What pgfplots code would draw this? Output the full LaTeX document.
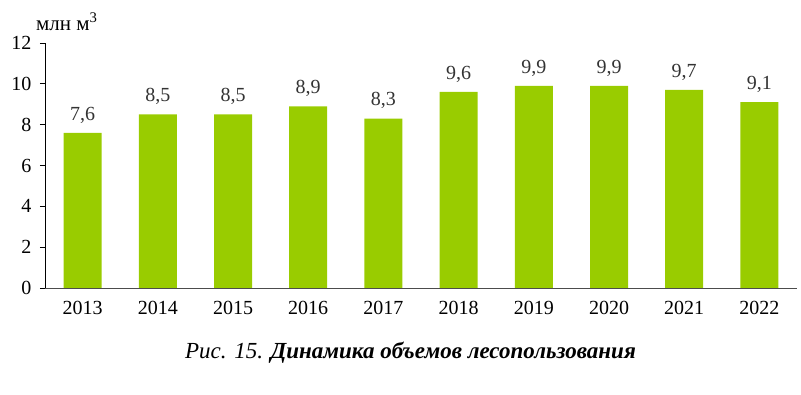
\documentclass[border=0pt]{standalone}
\usepackage{pgfplots}
\pgfplotsset{compat=1.18}
\usepackage{fontspec}
\setmainfont{Liberation Serif}
\definecolor{bargreen}{HTML}{99CC00}
\begin{document}
\begin{tikzpicture}
\useasboundingbox (0,0) rectangle (801pt,395pt);
\begin{axis}[
  at={(45pt,107pt)}, anchor=south west,
  scale only axis, width=752pt, height=245pt,
  xmin=-0.5, xmax=9.5, ymin=0, ymax=12,
  axis x line*=bottom, axis y line*=left,
  x axis line style={draw=black!70},
  ytick={0,2,...,12},
  xtick=data,
  xticklabels={2013,2014,2015,2016,2017,2018,2019,2020,2021,2022},
  x tick style={draw=none},
  y tick style={black, line width=0.8pt},
  tick align=outside,
  major tick length=5pt,
  ticklabel style={font=\fontsize{20}{23}\selectfont},
  /pgf/number format/assume math mode=true,
  yticklabel style={xshift=-5pt},
  xticklabel style={yshift=-5pt},
  axis line style={line width=0.8pt},
  ybar, bar width=38pt,
  nodes near coords,
  nodes near coords style={font=\fontsize{20}{23}\selectfont, yshift=6pt, text=black!80,
    /pgf/number format/.cd, fixed, fixed zerofill, precision=1, use comma, assume math mode=true},
  clip=false,
]
\addplot[fill=bargreen, draw=none] coordinates {
 (0,7.6) (1,8.5) (2,8.5) (3,8.9) (4,8.3) (5,9.6) (6,9.9) (7,9.9) (8,9.7) (9,9.1)};
\node[font=\fontsize{21}{24}\selectfont] at (rel axis cs:0.029,1.086) {млн м\textsuperscript{3}};
\node[font=\fontsize{23}{26}\selectfont\itshape] at (rel axis cs:0.486,-0.265) {Рис. 15. \textbf{Динамика объемов лесопользования}};
\end{axis}
\end{tikzpicture}
\end{document}
